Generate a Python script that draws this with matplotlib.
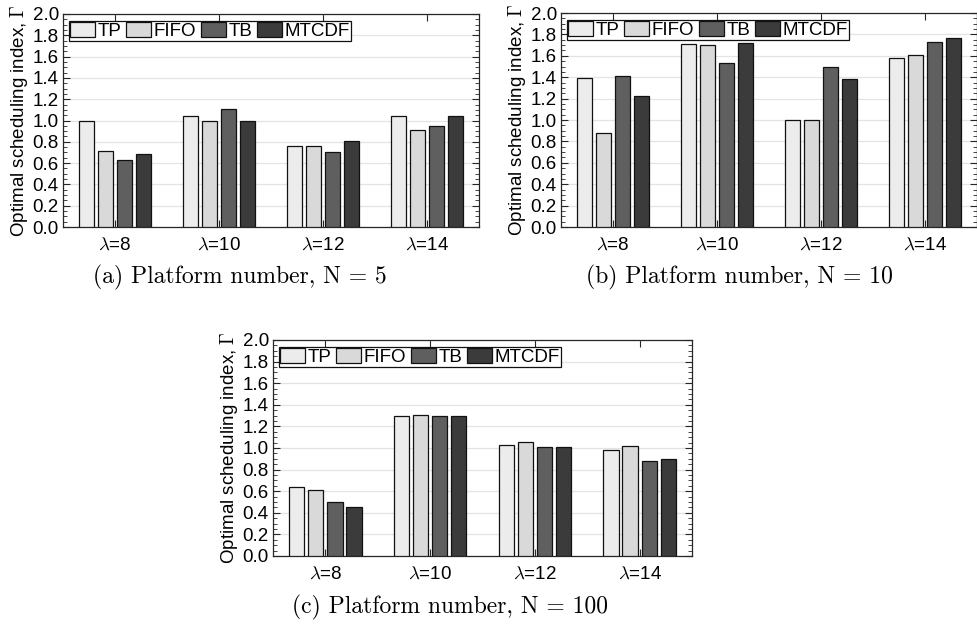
import numpy as np
import matplotlib
matplotlib.use('Agg')
import matplotlib.pyplot as plt
from matplotlib.ticker import MultipleLocator

plt.rcParams['font.family'] = ['Liberation Sans', 'DejaVu Sans']
plt.rcParams['mathtext.fontset'] = 'cm'

categories = [r'$\lambda$=8', r'$\lambda$=10', r'$\lambda$=12', r'$\lambda$=14']
methods = ['TP', 'FIFO', 'TB', 'MTCDF']
colors = ['#ececec', '#d9d9d9', '#5f5f5f', '#3b3b3b']

# one row per method (TP, FIFO, TB, MTCDF), one column per lambda
gamma_n5 = [[1.00, 1.04, 0.76, 1.04],
            [0.71, 1.00, 0.76, 0.91],
            [0.63, 1.11, 0.70, 0.95],
            [0.69, 1.00, 0.81, 1.04]]
gamma_n10 = [[1.39, 1.71, 1.00, 1.58],
             [0.88, 1.70, 1.00, 1.61],
             [1.41, 1.53, 1.50, 1.73],
             [1.22, 1.72, 1.38, 1.77]]
gamma_n100 = [[0.64, 1.30, 1.03, 0.98],
              [0.61, 1.31, 1.06, 1.02],
              [0.50, 1.30, 1.01, 0.88],
              [0.45, 1.30, 1.01, 0.90]]

captions = ['(a) Platform number, N = 5',
            '(b) Platform number, N = 10',
            '(c) Platform number, N = 100']

W, H = 977.0, 627.0
fs = 13.5


def draw(ax, data):
    x = np.arange(1, len(categories) + 1)
    gw = len(methods) / (len(methods) + 1.5)
    step = gw / len(methods)
    for i, vals in enumerate(data):
        ax.bar(x + (i - 1.5) * step, vals, width=step * 0.8, color=colors[i],
               edgecolor='#111111', linewidth=0.9, label=methods[i], zorder=3)
    ax.set_xlim(0.5, 4.5)
    ax.set_ylim(0, 2.0)
    ax.set_xticks(x)
    ax.set_xticklabels(categories, fontsize=fs)
    ax.yaxis.set_major_locator(MultipleLocator(0.2))
    ax.yaxis.set_minor_locator(MultipleLocator(0.05))
    ax.set_yticklabels(['%.1f' % v for v in ax.get_yticks()], fontsize=fs)
    ax.tick_params(axis='both', which='both', direction='in', top=True, right=True,
                   color='#262626')
    ax.tick_params(axis='y', which='major', length=5, pad=3)
    ax.tick_params(axis='y', which='minor', length=3)
    ax.tick_params(axis='x', which='major', length=5, pad=7)
    ax.yaxis.grid(True, color='#e3e3e3', linewidth=0.9, zorder=0)
    ax.set_axisbelow(True)
    for s in ax.spines.values():
        s.set_color('#262626')
        s.set_linewidth(0.9)
    ax.set_ylabel(r'Optimal scheduling index, $\Gamma$', fontsize=fs, labelpad=2)
    leg = ax.legend(ncol=4, loc='upper left', bbox_to_anchor=(6 / 416, 1 - 7 / 213),
                    borderaxespad=0, fontsize=13.5, handlelength=1.35, handleheight=0.85,
                    handletextpad=0.12, columnspacing=0.25, borderpad=0.05,
                    fancybox=False, framealpha=1)
    leg.get_frame().set_edgecolor('#111111')
    leg.get_frame().set_linewidth(0.9)


fig = plt.figure(figsize=(W / 100, H / 100), dpi=100)

ax1 = fig.add_axes([63 / W, 1 - 227 / H, 416 / W, 213 / H])
ax2 = fig.add_axes([561 / W, 1 - 227 / H, 416 / W, 214 / H])
ax3 = fig.add_axes([273 / W, 1 - 556 / H, 419 / W, 216 / H])

draw(ax1, gamma_n5)
draw(ax2, gamma_n10)
draw(ax3, gamma_n100)

cap = dict(fontsize=17, ha='center', va='baseline', family='cmr10')
fig.text(240 / W, 1 - 283 / H, captions[0], **cap)
fig.text(739 / W, 1 - 283 / H, captions[1], **cap)
fig.text(450 / W, 1 - 613 / H, captions[2], **cap)

fig.savefig('out.png', dpi=100)
